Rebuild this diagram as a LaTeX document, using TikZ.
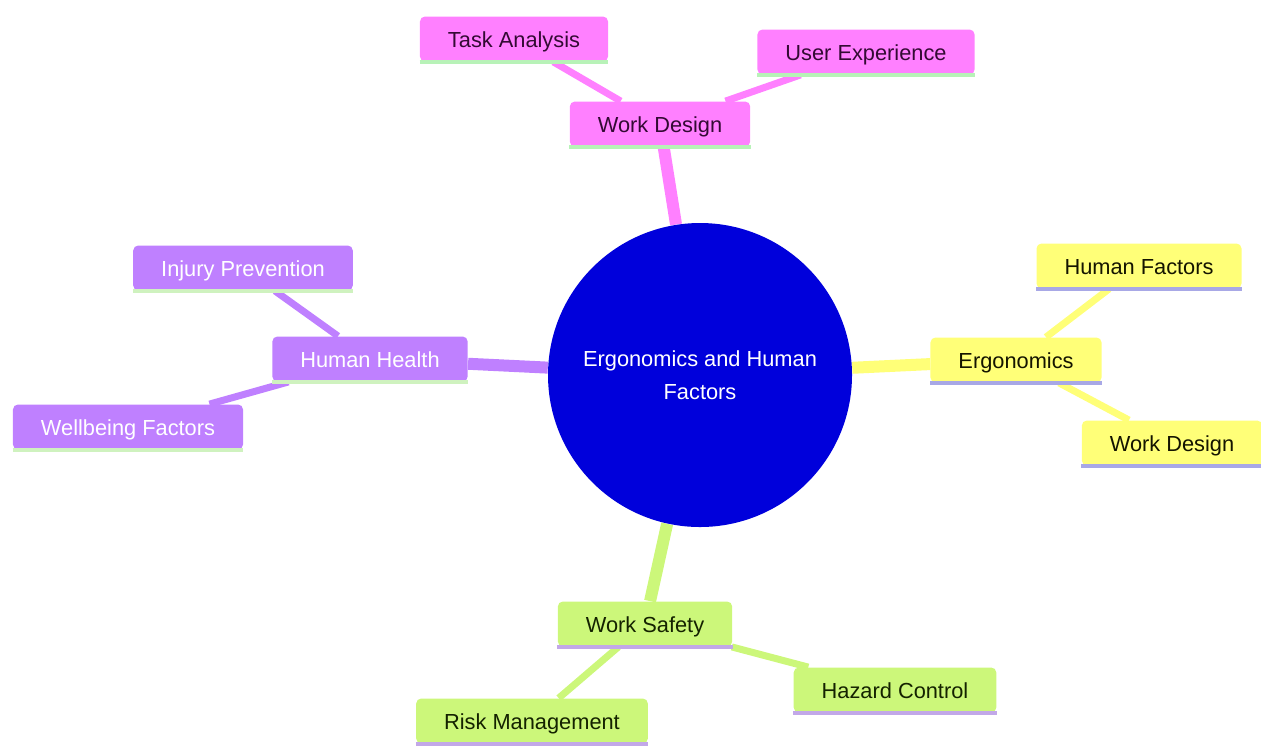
\documentclass[tikz,border=0pt]{standalone}
\usepackage{fontspec}
\setmainfont{Liberation Sans}
\usetikzlibrary{backgrounds}
\definecolor{rootblue}{HTML}{0000DB}
\definecolor{pinkfill}{HTML}{FF80FF}
\definecolor{yellowfill}{HTML}{FFFF78}
\definecolor{purplefill}{HTML}{BF80FF}
\definecolor{greenfill}{HTML}{CCF77A}
\definecolor{pinktext}{HTML}{330A33}
\definecolor{yellowtext}{HTML}{141400}
\definecolor{greentext}{HTML}{142200}
\definecolor{lineongreen}{HTML}{C2A8E8}
\definecolor{lineonpink}{HTML}{B8F2B8}
\definecolor{lineonyellow}{HTML}{A8A8E6}
\definecolor{lineonpurple}{HTML}{CFF2BF}
\tikzset{
  leaf/.style = {rectangle, rounded corners=2.5pt, inner xsep=14pt,
                 minimum height=22.5pt, text centered,
                 text height=10.5pt, text depth=2.5pt,
                 font=\fontsize{10.9}{13}\selectfont},
  pinkleaf/.style = {leaf, fill=pinkfill, text=pinktext},
  yellowleaf/.style = {leaf, fill=yellowfill, text=yellowtext},
  purpleleaf/.style = {leaf, fill=purplefill, text=white},
  greenleaf/.style = {leaf, fill=greenfill, text=greentext},
  root/.style = {circle, fill=rootblue, text=white, minimum size=152pt,
                 align=center, font=\fontsize{10.9}{16.5}\selectfont},
  rootedge/.style = {line width=6pt},
  subedge/.style = {line width=3.5pt},
}

\begin{document}
\begin{tikzpicture}[x=0.5pt, y=-0.5pt]
  \useasboundingbox (0,0) rectangle (1261,751);

  % centre
  \node (efh) [root] at (700,375) {Ergonomics and Human\\Factors};

  % work design branch
  \node (wd)  [pinkleaf] at (660,124) {Work Design};
  \node (ta)  [pinkleaf] at (514,39)  {Task Analysis};
  \node (ux)  [pinkleaf] at (866,52)  {User Experience};

  % ergonomics branch
  \node (erg) [yellowleaf] at (1016,360) {Ergonomics};
  \node (hf)  [yellowleaf] at (1139,266) {Human Factors};
  \node (ewd) [yellowleaf] at (1172,443) {Work Design};

  % human health branch
  \node (hh)  [purpleleaf] at (370,359) {Human Health};
  \node (ip)  [purpleleaf] at (243,268) {Injury Prevention};
  \node (wf)  [purpleleaf] at (128,427) {Wellbeing Factors};

  % work safety branch
  \node (ws)  [greenleaf] at (645,624) {Work Safety};
  \node (hc)  [greenleaf] at (895,690) {Hazard Control};
  \node (rm)  [greenleaf] at (532,721) {Risk Management};

  % bottom lines
  \foreach \n/\c in {wd/lineonpink, ta/lineonpink, ux/lineonpink,
                     erg/lineonyellow, hf/lineonyellow, ewd/lineonyellow,
                     hh/lineonpurple, ip/lineonpurple, wf/lineonpurple,
                     ws/lineongreen, hc/lineongreen, rm/lineongreen}
    \draw[line width=1.6pt, \c] (\n.south west) -- (\n.south east);

  \begin{pgfonlayer}{background}
    \draw[rootedge, pinkfill]   (efh) -- (wd);
    \draw[rootedge, yellowfill] (efh) -- (erg);
    \draw[rootedge, purplefill] (efh) -- (hh);
    \draw[rootedge, greenfill]  (efh) -- (ws);
    \draw[subedge, pinkfill]   (wd) -- (ta);
    \draw[subedge, pinkfill]   (wd) -- (ux);
    \draw[subedge, yellowfill] (erg) -- (hf);
    \draw[subedge, yellowfill] (erg) -- (ewd);
    \draw[subedge, purplefill] (hh) -- (ip);
    \draw[subedge, purplefill] (hh) -- (wf);
    \draw[subedge, greenfill]  (ws) -- (hc);
    \draw[subedge, greenfill]  (ws) -- (rm);
  \end{pgfonlayer}
\end{tikzpicture}
\end{document}
